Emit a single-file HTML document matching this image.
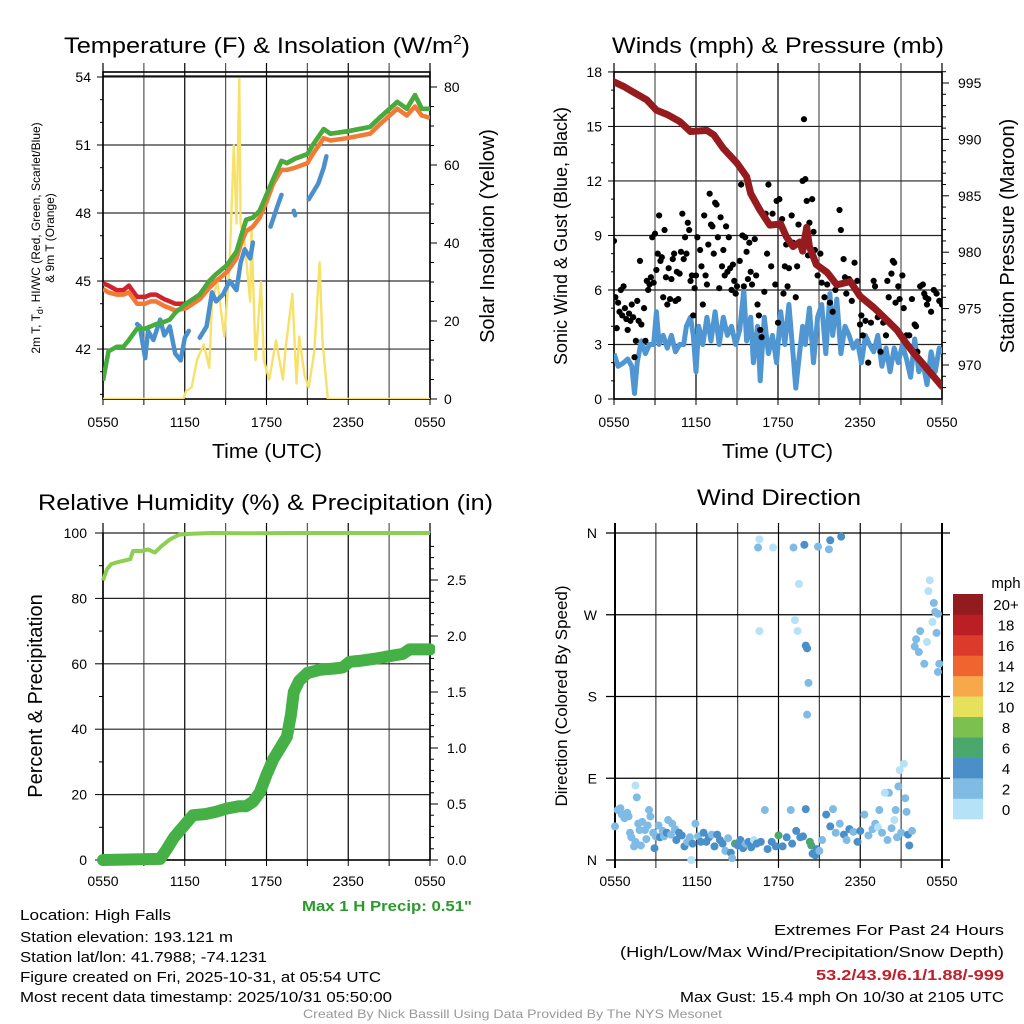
<!DOCTYPE html>
<html><head><meta charset="utf-8"><title>Mesonet Meteogram</title>
<style>
html,body{margin:0;padding:0;background:#fff;}
svg{display:block;font-family:"Liberation Sans",sans-serif;}
</style></head>
<body>
<svg id="fig" width="1024" height="1024" viewBox="0 0 1024 1024" xmlns="http://www.w3.org/2000/svg">
<rect x="0" y="0" width="1024" height="1024" fill="#fff"/>
<defs>
<clipPath id="c1"><rect x="103" y="63" width="327" height="336"/></clipPath>
<clipPath id="c2"><rect x="614" y="63" width="328" height="336"/></clipPath>
<clipPath id="c3"><rect x="97" y="525" width="338" height="342"/></clipPath>
<clipPath id="c4"><rect x="606" y="520" width="344" height="345"/></clipPath>
</defs>
<text x="64" y="53" font-size="22" textLength="406" lengthAdjust="spacingAndGlyphs">Temperature (F) &amp; Insolation (W/m<tspan font-size="13" dy="-9">2</tspan><tspan dy="9">)</tspan></text>
<text x="612" y="53" font-size="22" textLength="332" lengthAdjust="spacingAndGlyphs">Winds (mph) &amp; Pressure (mb)</text>
<text x="38" y="510" font-size="22" textLength="455" lengthAdjust="spacingAndGlyphs">Relative Humidity (%) &amp; Precipitation (in)</text>
<text x="697" y="505" font-size="22" textLength="164" lengthAdjust="spacingAndGlyphs">Wind Direction</text>
<text x="212" y="458" font-size="20" textLength="110" lengthAdjust="spacingAndGlyphs">Time (UTC)</text>
<text x="722" y="458" font-size="20" textLength="111" lengthAdjust="spacingAndGlyphs">Time (UTC)</text>
<text transform="translate(40,238) rotate(-90)" text-anchor="middle" font-size="12">2m T, T<tspan font-size="9" dy="3">d</tspan><tspan dy="-3">, HI/WC (Red, Green, Scarlet/Blue)</tspan></text>
<text transform="translate(54,238) rotate(-90)" text-anchor="middle" font-size="12">&amp; 9m T (Orange)</text>
<text transform="translate(494,236) rotate(-90)" text-anchor="middle" font-size="20">Solar Insolation (Yellow)</text>
<text transform="translate(567,236) rotate(-90)" text-anchor="middle" font-size="18">Sonic Wind &amp; Gust (Blue, Black)</text>
<text transform="translate(1014,236) rotate(-90)" text-anchor="middle" font-size="20">Station Pressure (Maroon)</text>
<text transform="translate(42,696) rotate(-90)" text-anchor="middle" font-size="20">Percent &amp; Precipitation</text>
<text transform="translate(567,696) rotate(-90)" text-anchor="middle" font-size="17">Direction (Colored By Speed)</text>
<text x="302" y="911" font-size="15" font-weight="bold" fill="#2a9a2a" textLength="170" lengthAdjust="spacingAndGlyphs">Max 1 H Precip: 0.51"</text>
<text x="20" y="920" font-size="15" textLength="151" lengthAdjust="spacingAndGlyphs">Location: High Falls</text>
<text x="20" y="942" font-size="15" textLength="213" lengthAdjust="spacingAndGlyphs">Station elevation: 193.121 m</text>
<text x="20" y="962" font-size="15" textLength="247" lengthAdjust="spacingAndGlyphs">Station lat/lon: 41.7988; -74.1231</text>
<text x="20" y="982" font-size="15" textLength="361" lengthAdjust="spacingAndGlyphs">Figure created on Fri, 2025-10-31, at 05:54 UTC</text>
<text x="20" y="1002" font-size="15" textLength="372" lengthAdjust="spacingAndGlyphs">Most recent data timestamp: 2025/10/31 05:50:00</text>
<text x="774" y="935" font-size="15" textLength="230" lengthAdjust="spacingAndGlyphs">Extremes For Past 24 Hours</text>
<text x="620" y="957" font-size="15" textLength="384" lengthAdjust="spacingAndGlyphs">(High/Low/Max Wind/Precipitation/Snow Depth)</text>
<text x="816" y="980" font-size="15" font-weight="bold" fill="#c0202a" textLength="188" lengthAdjust="spacingAndGlyphs">53.2/43.9/6.1/1.88/-999</text>
<text x="680" y="1002" font-size="15" textLength="324" lengthAdjust="spacingAndGlyphs">Max Gust: 15.4 mph On 10/30 at 2105 UTC</text>
<text x="303" y="1018" font-size="12" fill="#999" textLength="419" lengthAdjust="spacingAndGlyphs">Created By Nick Bassill Using Data Provided By The NYS Mesonet</text>
</svg>
<script>
// ---------- Panel 1 data ----------
const tempTimes=[0,0.4,1.0,1.5,1.9,2.5,3.1,3.5,3.9,4.5,4.9,5.3,6.1,7.1,7.8,8.3,9.1,9.8,10.1,10.5,11.0,11.5,12.0,12.5,13.1,13.5,14.1,15.0,15.4,16.2,16.7,17.9,19.6,20.3,21.6,22.3,22.9,23.4,24];
const tempRed=[44.9,44.8,44.6,44.6,44.8,44.3,44.3,44.4,44.4,44.2,44.1,44.0,44.0,44.4,45.0,45.3,45.7,46.3,46.9,47.7,47.8,48.1,48.8,49.5,50.3,50.2,50.4,50.6,51.0,51.7,51.5,51.6,51.8,52.2,52.9,52.6,53.2,52.6,52.6];
const tempGreen=[40.6,41.9,42.1,42.1,42.4,42.9,42.9,43.0,43.1,43.2,43.3,43.6,44.0,44.4,45.0,45.3,45.7,46.3,46.9,47.7,47.8,48.1,48.8,49.5,50.3,50.2,50.4,50.6,51.0,51.7,51.5,51.6,51.8,52.2,52.9,52.6,53.2,52.6,52.6];
const tempOrange=[44.65,44.5,44.4,44.4,44.5,44.0,44.0,44.1,44.1,43.9,43.8,43.7,43.8,44.2,44.7,45.0,45.4,46.0,46.6,47.2,47.4,47.8,48.5,49.3,49.9,49.9,50.0,50.2,50.6,51.3,51.2,51.3,51.5,51.9,52.6,52.3,52.7,52.3,52.2];
const hiTimes=[2.5,2.7,3.1,3.3,3.7,4.2,4.5,4.9,5.3,5.7,6.0,6.3,null,7.1,7.6,8.0,8.3,8.8,9.3,9.8,10.1,10.4,10.8,11.0,null,12.3,12.8,13.1,null,14.0,14.1,null,15.1,15.4,15.8,16.2,16.4];
const hiValues=[43.1,43.0,41.6,42.8,42.4,43.3,42.6,43.0,41.8,41.5,42.5,42.8,null,42.5,43.0,44.5,44.1,44.4,45.0,44.6,45.8,46.4,46.0,46.7,null,47.4,48.3,48.8,null,48.1,47.9,null,48.6,48.9,49.3,50.0,50.5];
const solarTimes=[0,5.9,6.1,6.5,6.9,7.4,7.8,8.0,8.4,8.9,9.3,9.6,9.8,10.0,10.1,10.4,10.8,10.9,11.2,11.6,11.8,12.2,12.7,13.2,13.4,13.9,14.2,14.4,14.8,15.1,15.5,15.9,16.1,16.5,24];
const solarValues=[0,0,2,3,10,14,8,25,30,16,35,65,45,82,45,40,25,44,10,30,10,5,15,5,13,27,4,16,6,3,12,35,15,0,0];
const tempTicks=[42,45,48,51,54];
const solarTicks=[0,20,40,60,80];
const timeTickLabels=["0550","1150","1750","2350","0550"];

// ---------- Panel 2 data ----------
const presTimes=[0,0.7,1.4,2.4,3.1,3.9,4.8,5.6,6.8,7.3,8.0,9.0,9.7,10.0,10.7,11.4,12.2,12.6,13.1,13.6,13.8,14.1,14.3,14.8,15.6,16.3,17.3,18.0,19.0,19.7,20.7,21.4,21.9,22.4,23.1,24];
const presValues=[995.1,994.7,994.2,993.5,992.6,992.2,991.6,990.7,990.8,990.4,989.2,987.9,986.7,985.2,983.7,982.4,982.5,981.4,980.5,980.9,980.1,982.2,980.5,978.9,978.2,977.1,977.4,976.1,975.1,974.3,973.1,971.9,971.1,970.4,969.4,968.1];
const windTimes=[0,0.3,0.7,1.0,1.3,1.5,1.7,2.0,2.3,2.6,2.9,3.1,3.3,3.6,3.9,4.2,4.5,4.8,5.1,5.3,5.6,5.8,6.0,6.2,6.5,6.8,7.1,7.4,7.7,8.0,8.3,8.6,8.9,9.2,9.5,9.7,10.0,10.2,10.5,10.7,11.0,11.3,11.6,11.9,12.2,12.5,12.8,13.1,13.3,13.5,13.8,14.0,14.3,14.6,14.9,15.2,15.5,15.8,16.0,16.3,16.6,16.9,17.2,17.5,17.8,18.1,18.4,18.7,19.0,19.3,19.6,19.9,20.2,20.5,20.8,21.1,21.4,21.7,22.0,22.3,22.6,22.9,23.2,23.5,23.8,24];
const windValues=[2.5,1.8,2.0,2.2,1.8,0.3,2.0,3.2,2.5,3.0,3.0,4.8,3.0,3.5,2.8,3.5,2.6,3.0,3.0,4.0,4.5,3.5,1.5,4.0,3.0,4.5,3.2,4.8,3.0,4.5,3.5,4.0,3.0,3.8,6.0,3.2,4.5,2.0,4.0,1.0,4.5,2.5,3.5,2.0,4.8,3.0,5.2,2.5,0.6,2.0,4.0,3.0,5.0,2.0,4.5,5.2,2.5,5.8,3.5,5.5,2.5,4.0,3.5,2.8,3.2,2.0,3.5,3.0,2.6,3.5,1.8,2.8,1.5,2.8,2.0,3.0,2.2,1.2,3.3,1.5,2.0,0.8,2.6,1.5,2.8,2.5];
const gustTimes=[0.0,0.1,0.2,0.3,0.4,0.5,0.6,0.7,0.8,0.9,1.0,1.1,1.2,1.3,1.4,1.5,1.6,1.7,1.8,1.9,2.0,2.2,2.3,2.4,2.5,2.6,2.7,2.8,2.9,3.0,3.1,3.2,3.3,3.4,3.5,3.6,3.7,3.8,3.9,4.0,4.1,4.2,4.3,4.4,4.5,4.6,4.7,4.8,4.9,5.0,5.1,5.2,5.3,5.4,5.5,5.6,5.7,5.8,5.9,6.0,6.1,6.3,6.4,6.5,6.6,6.7,6.8,6.9,7.0,7.1,7.2,7.3,7.4,7.5,7.6,7.7,7.8,7.9,8.0,8.1,8.2,8.3,8.4,8.5,8.6,8.7,8.8,8.9,9.0,9.2,9.3,9.4,9.5,9.6,9.7,9.8,9.9,10.0,10.1,10.3,10.4,10.5,10.6,10.7,10.8,11.0,11.1,11.2,11.3,11.4,11.5,11.6,11.8,11.9,12.0,12.1,12.3,12.4,12.5,12.6,12.7,12.8,13.0,13.1,13.3,13.4,13.5,13.8,13.9,14.0,14.1,14.2,14.3,14.5,14.6,14.7,14.9,15.1,15.2,15.4,15.6,15.8,16.0,16.2,16.5,16.6,16.8,16.9,17.0,17.2,17.4,17.6,17.8,18.0,18.1,18.2,18.4,18.6,18.8,19.0,19.1,19.3,19.5,19.7,19.9,20.0,20.1,20.3,20.4,20.5,20.6,20.8,20.9,21.1,21.2,21.4,21.6,21.8,22.0,22.1,22.2,22.4,22.6,22.7,22.8,22.9,23.0,23.2,23.4,23.6,23.8,24.0];
const gustValues=[8.7,5.6,3.9,5.3,4.8,6.0,4.6,6.2,5.0,4.4,3.8,4.7,4.3,5.2,4.5,2.3,3.2,5.4,4.3,7.6,4.1,5.0,3.2,6.5,6.0,6.3,6.7,8.9,6.4,9.1,7.1,8.0,10.1,7.6,7.8,5.6,9.3,6.7,5.2,7.2,5.5,6.6,7.7,8.0,5.4,7.0,5.5,6.9,8.1,10.2,7.7,8.9,8.0,9.7,9.3,6.5,6.8,4.6,6.1,6.8,8.9,8.2,7.3,5.2,10.1,6.8,6.3,8.5,11.3,9.6,9.5,8.0,10.8,10.7,8.9,6.1,10.0,7.3,8.2,6.8,9.5,7.0,8.9,7.2,6.0,7.4,6.5,5.8,6.2,7.6,11.8,9.0,6.2,8.9,8.1,6.6,8.6,7.0,6.3,8.8,6.8,5.2,4.6,3.8,3.4,5.9,10.2,8.0,11.8,9.6,7.3,10.2,6.3,10.9,4.2,11.0,9.9,5.8,7.3,8.5,6.2,7.2,10.1,8.6,5.6,7.3,9.6,12.0,15.4,12.1,10.9,7.9,9.7,11.0,9.2,8.2,6.8,8.0,6.4,5.6,6.3,5.3,4.8,6.0,10.4,9.3,7.7,6.7,5.8,6.6,5.4,7.5,6.5,4.1,4.6,3.5,4.3,2.0,4.2,6.5,6.2,4.5,2.6,4.2,3.5,6.5,5.6,6.9,7.6,7.5,5.3,6.2,5.5,6.8,5.0,3.5,3.5,5.5,4.1,4.0,2.6,6.2,6.3,5.8,5.6,5.2,5.5,4.8,6.0,5.8,5.4,5.2];
const windTicks=[0,3,6,9,12,15,18];
const presTicks=[970,975,980,985,990,995];

// ---------- Panel 3 data ----------
const rhTimes=[0,0.3,0.6,1.0,1.5,2.0,2.2,2.8,3.3,3.8,4.3,4.9,5.6,6.5,8,10,14,18,24];
const rhValues=[85.5,89,90.5,91,91.5,92,94.5,94.5,95,94.0,96,98,99.5,99.8,100,99.9,100,100,100];
const precipTimes=[0,4.2,4.7,5.2,5.9,6.6,7.5,8.3,9.1,10.0,10.5,11.0,11.5,12.0,12.5,13.0,13.5,13.8,14.0,14.4,15.0,16.0,17.0,17.6,18.1,19.0,20.1,21.0,22.0,22.5,24];
const precipValues=[0,0.01,0.1,0.2,0.3,0.4,0.41,0.43,0.46,0.48,0.48,0.52,0.6,0.76,0.9,1.0,1.1,1.3,1.5,1.6,1.67,1.70,1.71,1.72,1.77,1.78,1.8,1.82,1.84,1.88,1.88];
const rhTicks=[0,20,40,60,80,100];
const precipTicks=["0.0","0.5","1.0","1.5","2.0","2.5"];

// ---------- Panel 4 data ----------
const dirTimes=[0,0.2,0.4,0.5,0.7,0.9,1.0,1.1,1.2,1.4,1.5,1.5,1.6,1.7,1.8,1.9,2.0,2.2,2.3,2.4,2.5,2.6,2.8,2.9,3.0,3.2,3.3,3.5,3.6,3.8,3.9,4.1,4.2,4.4,4.5,4.7,4.9,5.1,5.3,5.5,5.6,5.7,5.9,6.1,6.3,6.5,6.7,6.9,7.1,7.3,7.5,7.7,7.9,8.1,8.3,8.5,8.6,8.8,9.0,9.2,9.4,9.6,9.8,10.0,10.2,10.4,10.7,11.0,11.2,11.5,11.8,12.0,12.3,12.6,12.9,13.0,13.3,13.6,13.8,14.0,14.3,14.4,14.5,14.7,14.8,15.0,15.2,15.5,15.8,16.0,16.2,16.5,16.8,17.0,17.2,17.5,17.8,18.0,18.3,18.6,18.9,19.1,19.3,19.6,20.0,20.3,20.7,21.0,21.5,21.6,21.8,
10.6,10.5,11.6,13.1,13.9,14.9,15.8,15.7,16.6,13.5,10.6,13.2,13.4,14.0,14.1,14.2,14.1,
23.1,23.0,23.4,23.5,23.7,23.3,23.6,22.4,22.1,22.3,22.7,23.8,23.7,22.9,22.0,
21.2,20.9,20.8,20.1,19.8,21.3,21.4,20.6,19.4,20.5];
const dirValues=[37,55,57,50,46,52,48,30,25,15,20,82,69,40,33,16,42,33,23,38,55,48,30,13,26,38,25,32,26,30,44,28,40,34,22,30,27,15,20,25,0,18,40,26,20,30,20,25,28,15,28,22,18,10,24,8,2,18,16,22,13,18,20,14,22,18,20,55,12,20,15,27,15,25,55,18,32,25,26,56,20,16,7,5,12,10,22,50,37,56,30,40,28,22,34,31,20,32,50,27,34,40,36,30,22,35,25,30,28,16,32,
353,344,344,344,347,345,352,342,356,304,252,264,252,236,233,195,160,
308,296,283,273,271,262,250,252,243,229,216,216,207,240,235,
106,99,81,74,74,68,53,55,55,44];
const dirSpeeds=[3,3,3,3,3,3,3,3,3,3,3,1,3,3,3,3,3,3,3,3,3,3,3,5,3,3,5,3,3,5,3,3,3,3,5,5,5,5,3,3,1,5,3,3,5,5,5,5,3,5,5,5,5,3,3,5,3,7,5,5,5,3,5,5,1,5,5,3,5,5,5,7,5,5,3,5,5,5,5,5,7,7,5,5,5,3,3,5,5,3,3,3,5,3,5,3,5,5,3,3,3,3,1,3,3,3,3,3,5,5,3,
1,3,1,3,5,3,5,3,5,1,1,1,1,5,5,3,3,
1,1,3,3,3,1,3,3,3,3,3,3,3,1,3,
1,1,3,3,1,3,3,3,3,1];
const dirTicks=["N","E","S","W","N"];
const speedBins=["0","2","4","6","8","10","12","14","16","18","20+"];
const speedColors=["#b6e2f7","#80bbe5","#4a8fc7","#4aa86f","#7cc04f","#e6e15d","#f6a84b","#ef6530","#dc3a2a","#bc1e26","#921b1e"];

// ---------- helpers ----------
const NS="http://www.w3.org/2000/svg";
const svg=document.getElementById('fig');
function mk(tag,attrs,parent){const e=document.createElementNS(NS,tag);for(const k in attrs)e.setAttribute(k,attrs[k]);(parent||svg).appendChild(e);return e;}
function txt(x,y,s,size,anchor,parent){const t=mk('text',{x:x,y:y,'font-size':size,'text-anchor':anchor||'middle'},parent);t.textContent=s;return t;}
function pathFrom(xs,ys,fx,fy){let d="",pen=false;for(let i=0;i<xs.length;i++){if(xs[i]===null||ys[i]===null){pen=false;continue;}d+=(pen?"L":"M")+fx(xs[i]).toFixed(1)+","+fy(ys[i]).toFixed(1);pen=true;}return d;}

// ===== Panel 1 =====
(function(){
const x0=103,x1=430,yTop=72,yB=399;
const X=t=>x0+t*(x1-x0)/24;
const Yt=v=>77+(54-v)*22.67;
const Yi=v=>399-v*3.9;
const g=mk('g',{});


for(let h=0;h<=24;h+=3){const l=mk('line',{x1:X(h),x2:X(h),y1:63,y2:yB,stroke:(h%6==0)?'#000':'#555','stroke-width':1.2},g);


mk('line',{x1:X(h),x2:X(h),y1:yB,y2:yB+6,stroke:'#000'},g);}
tempTicks.forEach(v=>{const l=mk('line',{x1:x0,x2:x1,y1:Yt(v),y2:Yt(v),stroke:'#333','stroke-width':1.2},g);


mk('line',{x1:x0-6,x2:x0,y1:Yt(v),y2:Yt(v),stroke:'#000'},g);
const t=txt(x0-12,Yt(v)+5,String(v),14,'end',g);

});
for(let v=40;v<=54;v++){if(v%3)mk('line',{x1:x0-3,x2:x0,y1:Yt(v),y2:Yt(v),stroke:'#000'},g);}
solarTicks.forEach(v=>{mk('line',{x1:x1,x2:x1+7,y1:Yi(v),y2:Yi(v),stroke:'#000'},g);
const t=txt(x1+14,Yi(v)+5,String(v),14,'start',g);

});
for(let v=5;v<=80;v+=5){if(v%20)mk('line',{x1:x1,x2:x1+4,y1:Yi(v),y2:Yi(v),stroke:'#000'},g);}
timeTickLabels.forEach((s,i)=>{const t=txt(X(i*6),427,s,14,'middle',g);

});
mk('rect',{x:x0,y:yTop,width:x1-x0,height:yB-yTop,fill:'none',stroke:'#000','stroke-width':1.6},g);
const c=mk('g',{'clip-path':'url(#c1)'},g);
let p=mk('path',{d:pathFrom(solarTimes,solarValues,X,Yi),fill:'none',stroke:'#f8e168','stroke-width':2.4,'stroke-linejoin':'round'},c);


p=mk('path',{d:pathFrom(hiTimes,hiValues,X,Yt),fill:'none',stroke:'#4b90cd','stroke-width':4.5,'stroke-linecap':'round','stroke-linejoin':'round'},c);


p=mk('path',{d:pathFrom(tempTimes,tempRed,X,Yt),fill:'none',stroke:'#d0222a','stroke-width':4.5,'stroke-linejoin':'round'},c);


p=mk('path',{d:pathFrom(tempTimes,tempOrange,X,Yt),fill:'none',stroke:'#f27a34','stroke-width':4.5,'stroke-linejoin':'round'},c);


p=mk('path',{d:pathFrom(tempTimes,tempGreen,X,Yt),fill:'none',stroke:'#44ad3c','stroke-width':4.5,'stroke-linejoin':'round'},c);


mk('line',{x1:x0,x2:x1,y1:76,y2:76,stroke:'#000','stroke-width':1.2},g);
})();

// ===== Panel 2 =====
(function(){
const x0=614,x1=942,yTop=72,yB=399;
const X=t=>x0+t*(x1-x0)/24;
const Yw=v=>399-v*18.17;
const Yp=v=>83+(995-v)*11.28;
const g=mk('g',{});


for(let h=0;h<=24;h+=3){const l=mk('line',{x1:X(h),x2:X(h),y1:63,y2:yB,stroke:(h%6==0)?'#000':'#555','stroke-width':1.2},g);


mk('line',{x1:X(h),x2:X(h),y1:yB,y2:yB+6,stroke:'#000'},g);}
windTicks.forEach(v=>{const l=mk('line',{x1:x0,x2:x1,y1:Yw(v),y2:Yw(v),stroke:'#222','stroke-width':1.2},g);


mk('line',{x1:x0-6,x2:x0,y1:Yw(v),y2:Yw(v),stroke:'#000'},g);
const t=txt(x0-12,Yw(v)+5,String(v),14,'end',g);

});
for(let v=1;v<18;v++){if(v%3)mk('line',{x1:x0-3,x2:x0,y1:Yw(v),y2:Yw(v),stroke:'#000'},g);}
presTicks.forEach(v=>{mk('line',{x1:x1,x2:x1+7,y1:Yp(v),y2:Yp(v),stroke:'#000'},g);
const t=txt(x1+16,Yp(v)+5,String(v),14,'start',g);

});
for(let v=968;v<=996;v++){if(v%5)mk('line',{x1:x1,x2:x1+4,y1:Yp(v),y2:Yp(v),stroke:'#000'},g);}
timeTickLabels.forEach((s,i)=>{const t=txt(X(i*6),427,s,14,'middle',g);

});
mk('rect',{x:x0,y:yTop,width:x1-x0,height:yB-yTop,fill:'none',stroke:'#000','stroke-width':1.6},g);
const c=mk('g',{'clip-path':'url(#c2)'},g);
let p=mk('path',{d:pathFrom(windTimes,windValues,X,Yw),fill:'none',stroke:'#4f96d2','stroke-width':5,'stroke-linejoin':'round'},c);


gustTimes.forEach((t,i)=>{const d=mk('circle',{cx:X(t),cy:Yw(gustValues[i]),r:3.1,fill:'#000'},c);

});
p=mk('path',{d:pathFrom(presTimes,presValues,X,Yp),fill:'none',stroke:'#961b1e','stroke-width':7,'stroke-linejoin':'round','stroke-linecap':'round'},c);


})();

// ===== Panel 3 =====
(function(){
const x0=103,x1=430,yTop=533,yB=860;
const X=t=>x0+t*(x1-x0)/24;
const Yr=v=>860-v*3.27;
const Yq=v=>860-v*112;
const g=mk('g',{});


for(let h=0;h<=24;h+=3){const l=mk('line',{x1:X(h),x2:X(h),y1:523,y2:yB,stroke:(h%6==0)?'#000':'#555','stroke-width':1.2},g);


mk('line',{x1:X(h),x2:X(h),y1:yB,y2:yB+6,stroke:'#000'},g);}
rhTicks.forEach(v=>{const l=mk('line',{x1:x0,x2:x1,y1:Yr(v),y2:Yr(v),stroke:'#222','stroke-width':1.2},g);


mk('line',{x1:x0-8,x2:x0,y1:Yr(v),y2:Yr(v),stroke:'#000'},g);
const t=txt(x0-16,Yr(v)+5,String(v),14,'end',g);

});
for(let v=10;v<100;v+=20){mk('line',{x1:x0-4,x2:x0,y1:Yr(v),y2:Yr(v),stroke:'#000'},g);}
precipTicks.forEach(s=>{const v=parseFloat(s);mk('line',{x1:x1,x2:x1+8,y1:Yq(v),y2:Yq(v),stroke:'#000'},g);
const t=txt(x1+17,Yq(v)+5,s,14,'start',g);

});
for(let v=0.1;v<2.9;v+=0.1){mk('line',{x1:x1,x2:x1+4,y1:Yq(v),y2:Yq(v),stroke:'#000'},g);}
timeTickLabels.forEach((s,i)=>{const t=txt(X(i*6),886,s,14,'middle',g);

});
mk('line',{x1:x0,x2:x0,y1:yTop,y2:yB,stroke:'#000','stroke-width':1.6},g);
mk('line',{x1:x1,x2:x1,y1:yTop,y2:yB,stroke:'#000','stroke-width':1.6},g);
mk('line',{x1:x0,x2:x1,y1:yB,y2:yB,stroke:'#000','stroke-width':1.6},g);
const c=mk('g',{'clip-path':'url(#c3)'},g);
let p=mk('path',{d:pathFrom(rhTimes,rhValues,X,Yr),fill:'none',stroke:'#8ccf52','stroke-width':4,'stroke-linejoin':'round'},c);


p=mk('path',{d:pathFrom(precipTimes,precipValues,X,Yq),fill:'none',stroke:'#45b046','stroke-width':12,'stroke-linejoin':'round','stroke-linecap':'round'},c);


})();

// ===== Panel 4 =====
(function(){
const x0=615,x1=942;
const X=t=>x0+t*(x1-x0)/24;
const Yd=d=>860-d*(327/360);
const g=mk('g',{});


for(let h=0;h<=24;h+=3){const l=mk('line',{x1:X(h),x2:X(h),y1:523,y2:868,stroke:(h%6==0)?'#000':'#444','stroke-width':(h==0||h==24)?2:1.2},g);

}
dirTicks.forEach((s,i)=>{const l=mk('line',{x1:606,x2:950,y1:Yd(i*90),y2:Yd(i*90),stroke:'#000','stroke-width':1.3},g);


const t=txt(597,Yd(i*90)+5,s,14,'end',g);

});
timeTickLabels.forEach((s,i)=>{const t=txt(X(i*6),886,s,14,'middle',g);

});
const c=mk('g',{'clip-path':'url(#c4)'},g);
dirTimes.forEach((t,i)=>{const bin=Math.min(10,Math.floor(dirSpeeds[i]/2));
const d=mk('circle',{cx:X(t),cy:Yd(dirValues[i]),r:4,fill:speedColors[bin]},c);

});
const cb=mk('g',{},g);


const bh=(819-594)/speedBins.length;
speedBins.forEach((s,i)=>{const y=819-(i+1)*bh;
const r=mk('rect',{x:953,y:y,width:30,height:bh+0.3,fill:speedColors[i]},cb);


const t=txt(1006,y+bh/2+6,s,15,'middle',cb);

});
const u=txt(1006,588,'mph',15,'middle',cb);


})();
</script>
</body></html>
